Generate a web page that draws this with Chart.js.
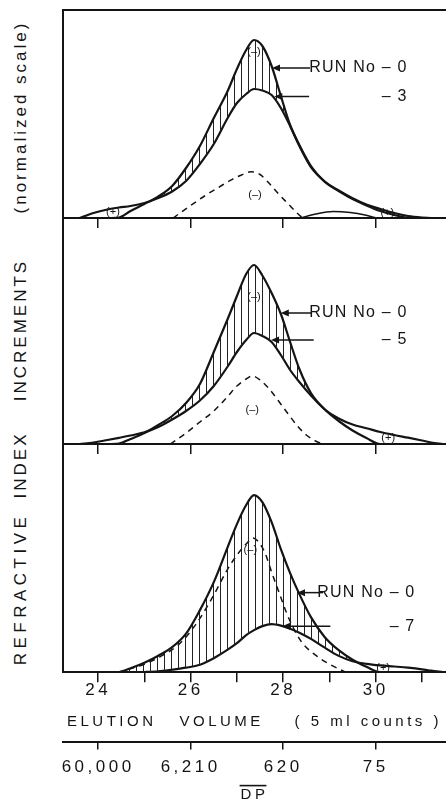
<!DOCTYPE html>
<html>
<head>
<meta charset="utf-8">
<script src="https://cdn.jsdelivr.net/npm/chart.js@4.4.1/dist/chart.umd.min.js"></script>
<style>
html,body{margin:0;padding:0;background:#fff;}
#wrap{position:relative;width:446px;height:804px;overflow:hidden;background:#fff;font-family:"Liberation Sans",Arial,sans-serif;color:#141414;}
canvas{position:absolute;left:0;}
.yt{position:absolute;left:20px;transform:translate(-50%,-50%) rotate(-90deg);white-space:nowrap;font-size:17px;letter-spacing:3px;line-height:1;}
</style>
</head>
<body>
<div id="wrap">
  <div class="yt" style="top:117px">(normalized scale)</div>
  <div class="yt" style="top:330px">INCREMENTS</div>
  <div class="yt" style="top:465px">INDEX</div>
  <div class="yt" style="top:589px;letter-spacing:4.5px">REFRACTIVE</div>
  <canvas id="c1" width="446" height="230" style="top:0;width:446px;height:230px"></canvas>
  <canvas id="c2" width="446" height="238" style="top:218px;width:446px;height:238px"></canvas>
  <canvas id="c3" width="446" height="360" style="top:444px;width:446px;height:360px"></canvas>
</div>
<script>
// ---------- data (heights in panel units) ----------
const elution = [23.6, 23.9, 24.2, 24.45, 24.7, 25.0, 25.3, 25.6, 25.9, 26.2, 26.5, 26.8, 27.0, 27.2, 27.37, 27.55, 27.75, 27.95, 28.15, 28.35, 28.6, 28.9, 29.2, 29.5, 29.8, 30.1, 30.4, 30.7, 31.0, 31.2, 31.45];

const topRun0 = [0, 0, 0, 0.5, 7, 14, 21.5, 32, 50, 72, 100, 127, 149, 168, 178, 172, 152, 122, 93, 73, 52, 36, 27, 19, 12.6, 7, 3, 0.3, 0, 0, 0];
const topRun3 = [0, 5, 8.5, 10.5, 12, 15, 20, 26.5, 37, 54, 74, 100, 115, 124, 129, 127.5, 123, 110, 92, 72, 51, 36.5, 27.5, 19.8, 13.5, 9, 5, 2, 0.5, 0, 0];
const topDiffX = [25.62, 26.0, 26.3, 26.6, 26.9, 27.1, 27.3, 27.5, 27.7, 27.9, 28.1, 28.3, 28.42];
const topDiff  = [0, 12.5, 22, 30.5, 38.7, 43, 46.3, 43.5, 34.5, 24, 14.5, 5, 0];
const topPlusX = [28.37, 28.7, 29.08, 29.45, 29.77, 30.01];
const topPlus  = [0, 4, 6.5, 5.5, 3, 0];

const midRun0 = [0, 0, 0, 0.5, 5, 11, 19, 28, 41, 60, 92, 125, 148, 170, 179, 168.5, 151, 130, 102, 75, 51, 34.5, 23, 13.5, 6, 0, 0, 0, 0, 0, 0];
const midRun5 = [0, 1.5, 4, 6.2, 8.5, 11.6, 17, 24.5, 33, 43.5, 58, 77.5, 92, 104, 111, 108, 102, 89, 74, 62, 48.5, 34.5, 25.5, 19.5, 15.8, 12, 9, 6.3, 3.5, 1.5, 0];
const midDiffX = [25.56, 25.9, 26.2, 26.5, 26.8, 27.0, 27.2, 27.33, 27.5, 27.7, 27.9, 28.1, 28.3, 28.5, 28.7, 28.87];
const midDiff  = [0, 11, 22, 33, 47.5, 58, 65, 68, 64, 55, 43, 30.5, 18.5, 9, 3, 0];

const botRun0 = [0, 0, 0, 0.2, 4, 9.5, 16.5, 25, 38.5, 62, 90, 125, 148, 167, 177, 170, 150, 123, 99, 78, 55, 35, 22, 12.5, 5.5, 0, 0, 0, 0, 0, 0];
const botRun7 = [0, 0, 0, 0, 0, 0.2, 0.8, 2.5, 4.5, 7.5, 14, 22.5, 29, 37, 42, 46, 48, 46.5, 43.5, 39.5, 33.3, 24.5, 16.3, 11, 8.4, 6.8, 5.7, 4.5, 2.9, 1.5, 0];
const botDiffX = [24.43, 25.0, 25.4, 25.75, 26.1, 26.45, 26.8, 27.0, 27.2, 27.35, 27.45, 27.6, 27.75, 27.9, 28.05, 28.2, 28.4, 28.7, 29.0, 29.35];
const botDiff  = [0, 8, 17, 28, 47, 73, 103, 117, 128, 134, 131, 120, 100, 81, 62, 46, 30, 17, 8, 0];

const majorTicks = [24, 26, 28, 30];
const allTicks = [24, 25, 26, 27, 28, 29, 30, 31];
const elutionTickLabels = ['24', '26', '28', '30'];
const dpTickLabels = ['60,000', '6,210', '620', '75'];

// annotation text anchored in data units
const topNotes = {
  labels: [{text: 'RUN No – 0', x: 30.69, y: 150}, {text: '– 3', x: 30.69, y: 121.5}],
  arrows: [{x1: 27.78, x2: 28.58, y: 150}, {x1: 27.83, x2: 28.56, y: 121.5}],
  signs: [{text: '(–)', x: 27.37, y: 166}, {text: '(–)', x: 27.39, y: 23}, {text: '(+)', x: 24.32, y: 6}, {text: '(+)', x: 30.25, y: 5}]
};
const midNotes = {
  labels: [{text: 'RUN No – 0', x: 30.69, y: 131}, {text: '– 5', x: 30.69, y: 104}],
  arrows: [{x1: 27.97, x2: 28.62, y: 131}, {x1: 27.76, x2: 28.66, y: 104}],
  signs: [{text: '(–)', x: 27.37, y: 147}, {text: '(–)', x: 27.33, y: 34}, {text: '(+)', x: 30.27, y: 6}]
};
const botNotes = {
  labels: [{text: 'RUN No – 0', x: 30.86, y: 79.5}, {text: '– 7', x: 30.86, y: 46}],
  arrows: [{x1: 28.32, x2: 28.86, y: 79.5}, {x1: 28.0, x2: 29.02, y: 46}],
  signs: [{text: '(–)', x: 27.29, y: 122}, {text: '(+)', x: 30.16, y: 4}]
};

// ---------- rendering ----------
const X_MIN = 23.24, X_MAX = 31.52;
const INK = '#141414';
const FONT = '"Liberation Sans", Arial, sans-serif';

function pts(xs, ys) { return xs.map((x, i) => ({x: x, y: ys[i]})); }

function hatch() {
  const c = document.createElement('canvas');
  c.width = 7; c.height = 8;
  const g = c.getContext('2d');
  g.fillStyle = '#222';
  g.fillRect(3, 0, 1, 8);
  return g.createPattern(c, 'repeat');
}

function solid(data, extra) {
  return Object.assign({data: data, borderColor: INK, borderWidth: 2.2, pointRadius: 0,
    cubicInterpolationMode: 'monotone', fill: false}, extra || {});
}

const notesPlugin = {
  id: 'notes',
  afterDatasetsDraw(chart, args, opts) {
    const ctx = chart.ctx, xs = chart.scales.x, ys = chart.scales.y;
    ctx.save();
    ctx.fillStyle = INK; ctx.strokeStyle = INK;
    (opts.arrows || []).forEach(a => {
      const x1 = xs.getPixelForValue(a.x1), x2 = xs.getPixelForValue(a.x2), y = ys.getPixelForValue(a.y);
      ctx.lineWidth = 1.5;
      ctx.beginPath(); ctx.moveTo(x1 + 4, y); ctx.lineTo(x2, y); ctx.stroke();
      ctx.beginPath(); ctx.moveTo(x1 - 1, y); ctx.lineTo(x1 + 7, y - 3.5); ctx.lineTo(x1 + 7, y + 3.5); ctx.closePath(); ctx.fill();
    });
    ctx.textBaseline = 'middle';
    ctx.textAlign = 'right';
    ctx.font = '16px ' + FONT;
    ctx.letterSpacing = '1.2px';
    (opts.labels || []).forEach(l => {
      ctx.fillText(l.text, xs.getPixelForValue(l.x), ys.getPixelForValue(l.y));
    });
    ctx.textAlign = 'center';
    ctx.font = '11px ' + FONT;
    ctx.letterSpacing = '0px';
    (opts.signs || []).forEach(l => {
      ctx.fillText(l.text, xs.getPixelForValue(l.x), ys.getPixelForValue(l.y));
    });
    ctx.restore();
  }
};

const spacingPlugin = {
  id: 'spacing',
  beforeDraw(chart) { chart.ctx.letterSpacing = '3.5px'; }
};

const overlinePlugin = {
  id: 'overline',
  afterDraw(chart) {
    const s = chart.scales.x2;
    if (!s) return;
    const ctx = chart.ctx;
    const size = 15, lh = size * 1.2;
    const cy = s.bottom - lh / 2;
    const cx = (s.left + s.right) / 2;
    ctx.save();
    ctx.font = size + 'px ' + FONT;
    ctx.letterSpacing = '3.5px';
    const w = ctx.measureText('DP').width;
    ctx.strokeStyle = INK; ctx.lineWidth = 1.6;
    ctx.beginPath();
    ctx.moveTo(cx - w / 2 - 1, cy - size * 0.36 - 4);
    ctx.lineTo(cx + w / 2 - 2, cy - size * 0.36 - 4);
    ctx.stroke();
    ctx.restore();
  }
};

function yAxis(max) {
  return {min: 0, max: max, display: true, ticks: {display: false},
    grid: {display: false, drawTicks: false}, border: {display: true, color: INK, width: 2}};
}
function tickSetter(list) { return s => { s.ticks = list.map(v => ({value: v})); }; }

function plainX() {
  return {type: 'linear', min: X_MIN, max: X_MAX, position: 'bottom',
    afterBuildTicks: tickSetter(majorTicks),
    ticks: {display: false},
    grid: {display: true, drawOnChartArea: false, drawTicks: true, tickLength: 10, color: INK, lineWidth: 1.5},
    border: {display: true, color: INK, width: 2}};
}

function baseOptions(padding, notes, scales) {
  return {
    responsive: false, animation: false, events: [],
    layout: {padding: padding},
    plugins: {legend: {display: false}, tooltip: {enabled: false}, notes: notes},
    scales: scales
  };
}

const hatchFill = hatch();

// top panel
new Chart(document.getElementById('c1'), {
  type: 'line',
  data: {datasets: [
    solid(pts(elution, topRun0), {fill: {target: 1, above: hatchFill, below: 'rgba(0,0,0,0)'}}),
    solid(pts(elution, topRun3)),
    solid(pts(topDiffX, topDiff), {borderWidth: 1.5, borderDash: [6, 5]}),
    solid(pts(topPlusX, topPlus), {borderWidth: 1.5})
  ]},
  options: baseOptions({left: 63, right: 0, top: 10, bottom: 2}, topNotes, {
    x: plainX(),
    xt: {type: 'linear', min: X_MIN, max: X_MAX, position: 'top', display: true,
      ticks: {display: false}, grid: {display: false, drawTicks: false},
      border: {display: true, color: INK, width: 2}},
    y: yAxis(208)
  }),
  plugins: [notesPlugin]
});

// middle panel
new Chart(document.getElementById('c2'), {
  type: 'line',
  data: {datasets: [
    solid(pts(elution, midRun0), {fill: {target: 1, above: hatchFill, below: 'rgba(0,0,0,0)'}}),
    solid(pts(elution, midRun5)),
    solid(pts(midDiffX, midDiff), {borderWidth: 1.5, borderDash: [6, 5]})
  ]},
  options: baseOptions({left: 63, right: 0, top: 0, bottom: 2}, midNotes, {
    x: plainX(),
    y: yAxis(226)
  }),
  plugins: [notesPlugin]
});

// bottom panel with both x axes
new Chart(document.getElementById('c3'), {
  type: 'line',
  data: {datasets: [
    solid(pts(elution, botRun0), {fill: {target: 1, above: hatchFill, below: 'rgba(0,0,0,0)'}}),
    solid(pts(elution, botRun7)),
    solid(pts(botDiffX, botDiff), {borderWidth: 1.5, borderDash: [6, 5]})
  ]},
  options: baseOptions({left: 63, right: 0, top: 0, bottom: 0}, botNotes, {
    x: {type: 'linear', min: X_MIN, max: X_MAX, position: 'bottom', weight: 0,
      afterBuildTicks: tickSetter(allTicks),
      ticks: {display: true, autoSkip: false, maxRotation: 0, padding: -2, color: INK,
        font: {family: FONT, size: 17},
        callback: v => { const i = majorTicks.indexOf(v); return i >= 0 ? elutionTickLabels[i] : ''; }},
      grid: {display: true, drawOnChartArea: false, drawTicks: true, tickLength: 10, color: INK, lineWidth: 1.5},
      border: {display: true, color: INK, width: 2},
      title: {display: true, text: 'ELUTION   VOLUME    ( 5 ml counts )', color: INK,
        font: {family: FONT, size: 15}, padding: {top: 14, bottom: 11}}},
    x2: {type: 'linear', min: X_MIN, max: X_MAX, position: 'bottom', weight: 1,
      afterBuildTicks: tickSetter(majorTicks),
      ticks: {display: true, autoSkip: false, maxRotation: 0, padding: 8, color: INK,
        font: {family: FONT, size: 17},
        callback: v => { const i = majorTicks.indexOf(v); return i >= 0 ? dpTickLabels[i] : ''; }},
      grid: {display: true, drawOnChartArea: false, drawTicks: true, tickLength: 8, color: INK, lineWidth: 1.5},
      border: {display: true, color: INK, width: 2},
      title: {display: true, text: 'DP', color: INK, font: {family: FONT, size: 15}, padding: {top: 0, bottom: 0}}},
    y: yAxis(228)
  }),
  plugins: [notesPlugin, spacingPlugin, overlinePlugin]
});
</script>
</body>
</html>
